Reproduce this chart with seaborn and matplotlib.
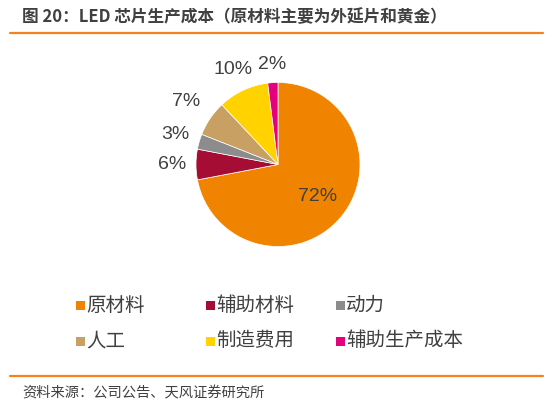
import matplotlib
matplotlib.use("Agg")
import matplotlib.pyplot as plt
import seaborn as sns
import numpy as np
from matplotlib.patches import Rectangle
from matplotlib.lines import Line2D

# -------------------------------
# data
# -------------------------------
categories = ["原材料", "辅助材料", "动力", "人工", "制造费用", "辅助生产成本"]
shares = [72, 6, 3, 7, 10, 2]
pct_labels = ["72%", "6%", "3%", "7%", "10%", "2%"]
colors = ["#F08300", "#A50D34", "#8C8C8C", "#C8A064", "#FFD200", "#E5007E"]
label_dist = [0.62, 1.29, 1.31, 1.36, 1.28, 1.22]

title = "图 20：LED 芯片生产成本（原材料主要为外延片和黄金）"
source = "资料来源：公司公告、天风证券研究所"

sns.set_theme(style="white")
plt.rcParams["font.family"] = ["Noto Sans CJK SC", "DejaVu Sans"]

W, H = 554, 409
fig = plt.figure(figsize=(W / 100, H / 100), dpi=100)
fig.patch.set_facecolor("white")

# pie axes: centre (278, 164.5) px, radius 82 px
cx, cy, r, half = 278, 164.5, 82, 120
ax = fig.add_axes([(cx - half) / W, (H - cy - half) / H, 2 * half / W, 2 * half / H])
wedges, _ = ax.pie(shares, colors=colors, startangle=90, counterclock=False,
                   wedgeprops=dict(edgecolor="white", linewidth=0.5))
lim = half / r
ax.set_xlim(-lim, lim)
ax.set_ylim(-lim, lim)
ax.set_aspect("equal")
ax.axis("off")

for w, lab, d in zip(wedges, pct_labels, label_dist):
    ang = np.deg2rad((w.theta1 + w.theta2) / 2)
    ax.text(d * np.cos(ang), d * np.sin(ang), lab, ha="center", va="center",
            fontsize=14, color="#404040", family=["Liberation Sans"])

# title and rules
fig.text(22 / W, 1 - 17 / H, title, fontsize=12, fontweight="bold",
         color="#404040", ha="left", va="center")
fig.add_artist(Line2D([10 / W, 543 / W], [1 - 33 / H, 1 - 33 / H],
                      color="#F5821F", linewidth=1.6))
fig.add_artist(Line2D([10 / W, 543 / W], [1 - 376 / H, 1 - 376 / H],
                      color="#F5821F", linewidth=1.6))
fig.text(22 / W, 1 - 393 / H, source, fontsize=10.3, color="#404040",
         ha="left", va="center")

# legend: 3 columns x 2 rows, fixed column positions
col_x = [76, 206, 336]
row_y = [305, 341]
sq = 9
for i, (name, c) in enumerate(zip(categories, colors)):
    x = col_x[i % 3]
    y = row_y[i // 3]
    fig.add_artist(Rectangle(((x) / W, 1 - (y + sq / 2) / H), sq / W, sq / H,
                             facecolor=c, edgecolor="none"))
    fig.text((x + sq + 1) / W, 1 - y / H, name, fontsize=14, color="#404040",
             ha="left", va="center")

fig.savefig("out.png", dpi=100, facecolor="white")
